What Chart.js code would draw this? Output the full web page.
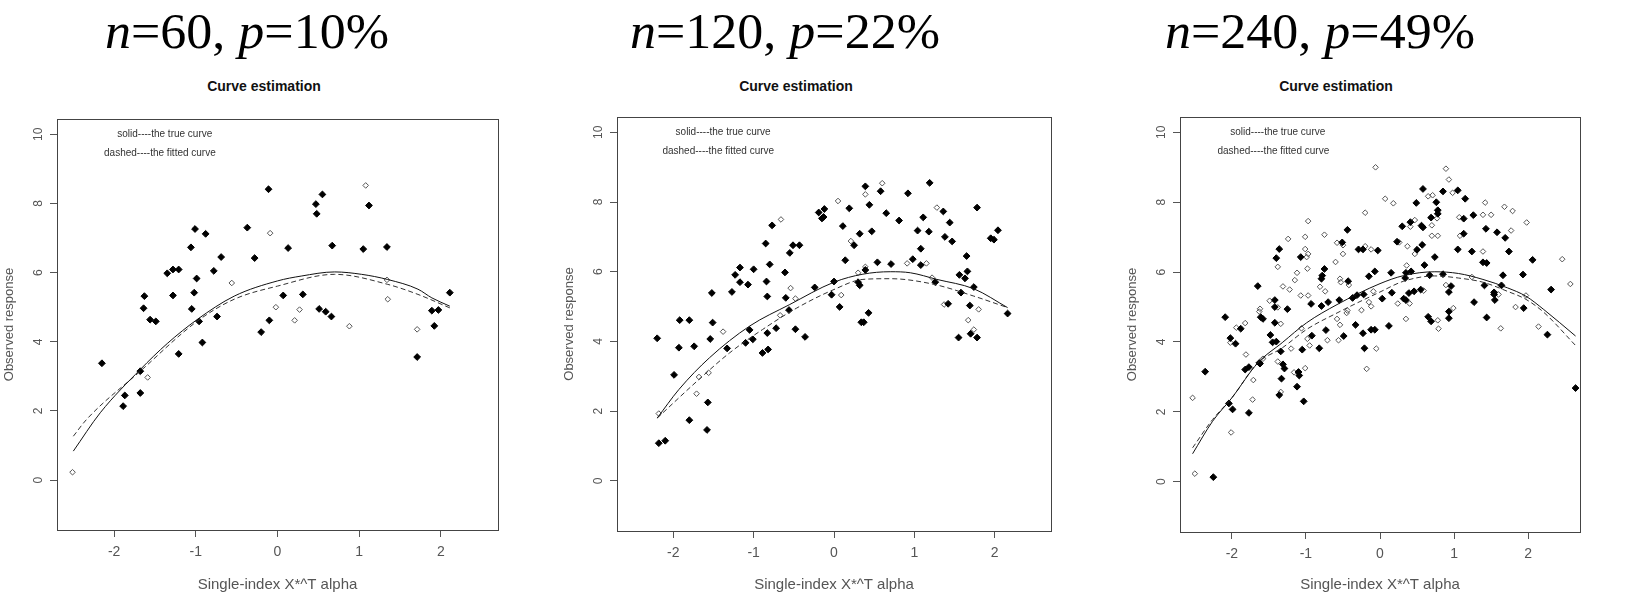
<!DOCTYPE html>
<html><head><meta charset="utf-8">
<script src="https://cdn.jsdelivr.net/npm/chart.js@4.4.0/dist/chart.umd.min.js"></script>
<style>
html,body{margin:0;padding:0;background:#fff;}
#wrap{position:relative;width:1642px;height:597px;overflow:hidden;background:#fff;}
canvas{position:absolute;top:0;}
.big{position:absolute;top:6px;font-family:'Liberation Serif','DejaVu Serif',serif;font-size:50px;line-height:50px;color:#000;white-space:nowrap;transform:translateX(-50%) scaleX(1.04);}
.big i{font-style:italic;}
.sub{position:absolute;top:77px;font-family:'Liberation Sans',Arial,sans-serif;font-weight:bold;font-size:14px;line-height:18px;color:#111;white-space:nowrap;transform:translateX(-50%);}
</style></head>
<body>
<div id="wrap">
<div class="big" style="left:247px"><i>n</i>=60, <i>p</i>=10%</div>
<div class="big" style="left:785px"><i>n</i>=120, <i>p</i>=22%</div>
<div class="big" style="left:1320px"><i>n</i>=240, <i>p</i>=49%</div>
<div class="sub" style="left:264px">Curve estimation</div>
<div class="sub" style="left:796px">Curve estimation</div>
<div class="sub" style="left:1336px">Curve estimation</div>
<canvas id="c1"></canvas>
<canvas id="c2"></canvas>
<canvas id="c3"></canvas>
</div>
<script>
// ---------- data ----------
const xTitle = 'Single-index X*^T alpha';
const yTitle = 'Observed response';
const noteTexts = ['solid----the true curve', 'dashed----the fitted curve'];
const notePos = [[-1.38, 10.0], [-1.44, 9.45]];
const xRange = [-2.7, 2.7];
const yRange = [-1.44, 10.44];

// panel 1 (n=60)
const p1Filled = [[-2.15,3.38],[-1.87,2.45],[-1.89,2.14],[-1.68,3.15],[-1.68,2.52],[-1.64,4.97],[-1.63,5.32],[-1.56,4.64],[-1.49,4.59],[-1.35,5.98],[-1.28,6.09],[-1.21,6.09],[-1.28,5.34],[-1.21,3.65],[-1.06,6.73],[-1.01,7.26],[-1.05,4.95],[-1.02,5.42],[-0.99,5.83],[-0.96,4.59],[-0.92,3.98],[-0.88,7.12],[-0.78,6.05],[-0.74,4.73],[-0.69,6.45],[-0.37,7.30],[-0.28,6.42],[-0.20,4.28],[-0.11,8.41],[-0.10,4.62],[0.07,5.34],[0.13,6.71],[0.31,5.37],[0.47,7.98],[0.48,7.70],[0.55,8.26],[0.51,4.95],[0.59,4.87],[0.66,4.73],[0.67,6.78],[1.05,6.68],[1.12,7.94],[1.34,6.74],[1.71,3.56],[1.89,4.90],[1.92,4.46],[1.97,4.92],[2.11,5.42]];
const p1Open = [[-2.51,0.23],[-1.59,2.97],[-0.56,5.70],[-0.09,7.14],[-0.02,5.00],[0.21,4.62],[0.27,4.93],[0.88,4.45],[1.08,8.52],[1.34,5.79],[1.35,5.23],[1.71,4.36]];
const p1True = [[-2.50,0.84],[-2.17,1.95],[-1.68,3.20],[-1.35,3.95],[-0.98,4.65],[-0.53,5.32],[0.00,5.76],[0.29,5.90],[0.70,6.02],[1.03,5.95],[1.35,5.80],[1.72,5.52],[1.89,5.27],[2.11,5.03]];
const p1Fit = [[-2.50,1.27],[-2.34,1.75],[-1.68,3.15],[-0.98,4.60],[-0.53,5.23],[0.00,5.61],[0.70,5.95],[1.35,5.66],[1.72,5.37],[2.11,4.98]];

// panel 2 (n=120)
const p2Filled = [[-2.20,4.09],[-2.18,1.08],[-2.10,1.15],[-1.99,3.04],[-1.93,3.82],[-1.92,4.61],[-1.80,4.61],[-1.80,1.74],[-1.74,3.86],[-1.58,1.46],[-1.57,2.25],[-1.54,4.07],[-1.52,5.39],[-1.51,4.54],[-1.33,3.80],[-1.27,5.42],[-1.23,5.91],[-1.17,6.12],[-1.17,5.70],[-1.10,3.96],[-1.07,5.63],[-1.05,4.33],[-1.01,4.06],[-1.00,6.07],[-0.89,3.67],[-0.85,6.81],[-0.84,5.72],[-0.83,5.29],[-0.83,4.24],[-0.82,3.77],[-0.80,6.21],[-0.77,7.33],[-0.72,4.38],[-0.61,5.98],[-0.60,5.25],[-0.55,6.54],[-0.56,4.90],[-0.51,6.76],[-0.48,4.35],[-0.43,6.76],[-0.36,4.13],[-0.24,5.55],[-0.19,7.70],[-0.15,7.53],[-0.13,7.57],[-0.12,7.80],[-0.03,5.34],[0.00,5.72],[0.07,4.99],[0.11,7.31],[0.14,6.33],[0.19,7.82],[0.25,6.76],[0.30,5.70],[0.32,7.09],[0.32,5.61],[0.34,4.55],[0.37,4.55],[0.39,6.05],[0.39,8.45],[0.43,4.82],[0.44,7.92],[0.47,7.16],[0.54,6.27],[0.58,8.31],[0.65,7.68],[0.71,6.22],[0.81,7.47],[0.92,8.25],[0.98,6.36],[1.04,7.18],[1.08,6.66],[1.08,6.19],[1.11,7.56],[1.18,7.15],[1.19,8.55],[1.26,5.70],[1.36,7.73],[1.38,7.00],[1.42,5.08],[1.44,7.41],[1.47,6.87],[1.55,4.11],[1.56,5.91],[1.58,5.40],[1.63,5.81],[1.65,6.45],[1.66,6.01],[1.69,5.03],[1.70,4.22],[1.74,5.56],[1.78,4.11],[1.78,7.84],[1.95,6.96],[1.99,6.92],[2.04,7.19],[2.16,4.80]];
const p2Open = [[-2.18,1.93],[-1.71,2.50],[-1.68,2.98],[-1.56,3.10],[-1.38,4.28],[-0.67,4.75],[-0.66,7.50],[-0.54,5.53],[-0.48,5.23],[0.05,8.03],[0.09,5.33],[0.21,6.88],[0.30,5.97],[0.39,8.22],[0.39,6.14],[0.60,8.54],[0.91,6.24],[1.15,6.24],[1.22,5.83],[1.28,7.84],[1.37,5.06],[1.67,4.61],[1.74,4.34],[1.80,4.92]];
const p2True = [[-2.20,1.80],[-1.93,2.62],[-1.55,3.53],[-1.05,4.44],[-0.55,5.06],[0.00,5.70],[0.36,5.93],[0.70,6.00],[0.95,5.97],[1.28,5.78],[1.74,5.51],[2.16,4.97]];
const p2Fit = [[-2.20,1.80],[-1.68,2.91],[-1.30,3.67],[-0.89,4.34],[-0.47,4.95],[0.00,5.49],[0.36,5.78],[0.70,5.80],[1.24,5.64],[1.74,5.30],[2.16,4.97]];

// panel 3 (n=240)
const p3Filled = [[-2.36,3.15],[-2.25,0.13],[-2.09,4.71],[-2.04,2.24],[-2.02,4.11],[-1.99,2.07],[-1.95,3.95],[-1.88,4.38],[-1.82,3.21],[-1.77,3.28],[-1.77,1.97],[-1.65,5.60],[-1.63,3.40],[-1.61,4.71],[-1.58,4.66],[-1.62,3.38],[-1.48,4.20],[-1.45,3.99],[-1.42,5.20],[-1.42,5.00],[-1.42,4.55],[-1.40,4.01],[-1.40,6.40],[-1.36,6.66],[-1.36,2.48],[-1.34,3.73],[-1.33,2.95],[-1.31,3.36],[-1.29,3.24],[-1.25,4.94],[-1.12,2.72],[-1.10,3.14],[-1.09,3.04],[-1.07,6.43],[-1.05,3.78],[-1.03,2.30],[-0.92,4.18],[-0.93,5.09],[-0.82,3.82],[-0.79,5.03],[-0.79,5.81],[-0.78,5.90],[-0.75,6.09],[-0.73,4.34],[-0.70,5.14],[-0.55,5.20],[-0.51,6.85],[-0.49,4.17],[-0.44,7.21],[-0.43,5.74],[-0.37,5.26],[-0.33,4.49],[-0.31,5.34],[-0.29,6.65],[-0.23,6.65],[-0.23,4.25],[-0.22,5.36],[-0.21,3.82],[-0.15,5.88],[-0.12,4.35],[-0.07,4.35],[-0.07,6.02],[-0.03,6.62],[0.03,5.24],[0.12,4.46],[0.15,5.98],[0.16,5.41],[0.23,6.87],[0.30,7.31],[0.32,5.24],[0.34,5.83],[0.35,5.98],[0.35,5.20],[0.39,5.40],[0.41,7.43],[0.42,6.02],[0.46,5.45],[0.49,7.98],[0.50,6.64],[0.55,5.50],[0.56,7.33],[0.57,6.78],[0.58,8.38],[0.58,7.28],[0.60,6.20],[0.65,4.72],[0.67,5.91],[0.69,7.56],[0.69,4.59],[0.74,6.43],[0.76,8.00],[0.78,7.77],[0.78,7.67],[0.85,8.31],[0.85,5.94],[0.93,5.43],[0.93,4.87],[0.93,4.68],[0.96,5.60],[1.05,6.65],[1.05,8.34],[1.13,7.53],[1.13,7.10],[1.15,8.10],[1.24,6.59],[1.26,7.63],[1.27,5.14],[1.39,6.28],[1.41,5.62],[1.43,7.24],[1.44,6.26],[1.44,4.70],[1.54,5.42],[1.54,5.36],[1.55,5.20],[1.58,7.14],[1.64,5.62],[1.66,5.91],[1.69,6.98],[1.74,6.59],[1.93,5.93],[1.94,4.97],[2.06,6.35],[2.31,5.50],[2.26,4.21],[2.64,2.68]];
const p3Open = [[-2.53,2.40],[-2.50,0.23],[-2.01,1.41],[-2.02,3.98],[-1.94,4.41],[-1.82,4.54],[-1.81,3.64],[-1.71,2.91],[-1.72,2.35],[-1.63,4.87],[-1.62,4.95],[-1.58,3.52],[-1.49,5.18],[-1.38,6.15],[-1.38,4.99],[-1.38,3.44],[-1.34,4.52],[-1.34,2.57],[-1.31,5.59],[-1.24,6.95],[-1.22,5.50],[-1.20,3.81],[-1.16,3.13],[-1.15,5.77],[-1.12,5.98],[-1.07,5.33],[-1.06,4.39],[-1.01,7.01],[-1.01,6.66],[-1.01,3.25],[-0.99,6.43],[-0.98,6.10],[-0.98,4.09],[-0.97,7.46],[-0.97,6.52],[-0.97,5.33],[-0.95,3.90],[-0.81,5.58],[-0.75,7.07],[-0.74,5.45],[-0.71,4.05],[-0.60,6.29],[-0.58,6.84],[-0.58,4.66],[-0.56,4.05],[-0.54,5.81],[-0.54,4.49],[-0.53,5.71],[-0.50,6.77],[-0.50,6.52],[-0.45,4.83],[-0.44,4.90],[-0.42,5.63],[-0.25,4.91],[-0.20,7.70],[-0.20,6.74],[-0.18,3.23],[-0.15,5.14],[-0.12,5.02],[-0.12,6.65],[-0.09,5.45],[-0.06,9.00],[-0.05,3.81],[0.07,8.10],[0.18,7.97],[0.24,5.10],[0.26,6.85],[0.35,4.66],[0.36,6.19],[0.37,6.74],[0.40,5.10],[0.41,7.30],[0.47,7.49],[0.47,6.52],[0.59,5.47],[0.65,8.17],[0.71,8.20],[0.70,7.34],[0.70,7.04],[0.77,7.54],[0.78,7.04],[0.78,4.62],[0.79,4.38],[0.89,8.96],[0.89,5.63],[0.93,8.65],[0.98,8.27],[0.99,4.97],[1.07,7.57],[1.08,7.04],[1.24,5.86],[1.39,6.59],[1.39,7.64],[1.42,7.99],[1.50,7.64],[1.60,5.36],[1.63,4.39],[1.68,7.87],[1.77,7.19],[1.79,7.75],[1.83,5.00],[1.98,7.42],[1.97,5.33],[2.14,4.44],[2.46,6.37],[2.57,5.66]];
const p3True = [[-2.53,0.80],[-2.26,1.73],[-2.00,2.40],[-1.65,3.40],[-1.32,3.98],[-0.99,4.55],[-0.58,5.07],[0.00,5.67],[0.32,5.90],[0.74,6.01],[1.06,5.96],[1.39,5.79],[1.72,5.55],[1.97,5.31],[2.21,4.93],[2.64,4.17]];
const p3Fit = [[-2.53,0.97],[-2.26,1.78],[-2.00,2.40],[-1.65,3.40],[-1.32,3.83],[-0.99,4.36],[-0.58,4.83],[0.00,5.43],[0.32,5.74],[0.74,5.89],[1.06,5.83],[1.39,5.71],[1.72,5.45],[1.97,5.22],[2.21,4.85],[2.64,3.90]];

// ---------- drawing ----------
const FONT = "'Liberation Sans', Arial, sans-serif";
const toXY = arr => arr.map(p => ({x: p[0], y: p[1]}));

const boxPlugin = {
  id: 'box',
  afterDatasetsDraw(chart) {
    const {ctx, chartArea: a} = chart;
    ctx.save();
    ctx.strokeStyle = '#444';
    ctx.lineWidth = 1;
    ctx.strokeRect(Math.round(a.left) + 0.5, Math.round(a.top) + 0.5,
                   Math.round(a.right - a.left), Math.round(a.bottom - a.top));
    ctx.restore();
  }
};
const notePlugin = {
  id: 'notes',
  afterDatasetsDraw(chart) {
    const {ctx, scales} = chart;
    ctx.save();
    ctx.font = '10px ' + FONT;
    ctx.fillStyle = '#333';
    ctx.textAlign = 'center';
    ctx.textBaseline = 'middle';
    noteTexts.forEach((t, i) => {
      ctx.fillText(t, scales.x.getPixelForValue(notePos[i][0]), scales.y.getPixelForValue(notePos[i][1]));
    });
    ctx.restore();
  }
};

function makeChart(id, g, filled, open, trueC, fitC) {
  const cv = document.getElementById(id);
  const left = g.L - 57;
  cv.style.left = left + 'px';
  cv.width = g.W; cv.height = 597;
  cv.style.width = g.W + 'px'; cv.style.height = '597px';
  const padRight = g.W - (g.R - left);
  new Chart(cv, {
    type: 'scatter',
    data: {datasets: [
      {data: toXY(trueC), showLine: true, borderColor: '#111', borderWidth: 1, pointRadius: 0, cubicInterpolationMode: 'monotone', fill: false},
      {data: toXY(fitC), showLine: true, borderColor: '#333', borderWidth: 1, borderDash: [5, 3], pointRadius: 0, cubicInterpolationMode: 'monotone', fill: false},
      {data: toXY(filled), showLine: false, pointStyle: 'rectRot', pointRadius: 3.4, backgroundColor: '#000', borderColor: '#000', borderWidth: 1},
      {data: toXY(open), showLine: false, pointStyle: 'rectRot', pointRadius: 2.8, backgroundColor: 'rgba(255,255,255,0)', borderColor: '#555', borderWidth: 1}
    ]},
    options: {
      responsive: false, animation: false, devicePixelRatio: 1,
      layout: {padding: {top: g.T, right: padRight, bottom: 0, left: 0}},
      plugins: {legend: {display: false}, tooltip: {enabled: false}, title: {display: false}},
      scales: {
        x: {
          type: 'linear', min: xRange[0], max: xRange[1],
          afterFit(s) { s.height = 597 - g.B; },
          ticks: {stepSize: 1, includeBounds: false, color: '#555', font: {family: FONT, size: 14}, padding: 7, maxRotation: 0},
          grid: {drawOnChartArea: false, tickLength: 7, color: '#555'},
          border: {display: true, color: '#444'},
          title: {display: true, text: xTitle, color: '#555', font: {family: FONT, size: 15}, padding: {top: 0, bottom: 3}}
        },
        y: {
          type: 'linear', min: yRange[0], max: yRange[1],
          afterFit(s) { s.width = 57; },
          ticks: {stepSize: 2, includeBounds: false, color: '#555', font: {family: FONT, size: 12}, padding: 5, minRotation: 90, maxRotation: 90, crossAlign: 'center'},
          grid: {drawOnChartArea: false, tickLength: 7, color: '#555'},
          border: {display: true, color: '#444'},
          title: {display: true, text: yTitle, color: '#555', font: {family: FONT, size: 13}, padding: {top: 2, bottom: 0}}
        }
      }
    },
    plugins: [boxPlugin, notePlugin]
  });
}

makeChart('c1', {L: 57, R: 498, T: 119, B: 530, W: 530}, p1Filled, p1Open, p1True, p1Fit);
makeChart('c2', {L: 617, R: 1051, T: 117, B: 531, W: 520}, p2Filled, p2Open, p2True, p2Fit);
makeChart('c3', {L: 1180, R: 1622, T: 117, B: 532, W: 462}, p3Filled, p3Open, p3True, p3Fit);
</script>
</body></html>
